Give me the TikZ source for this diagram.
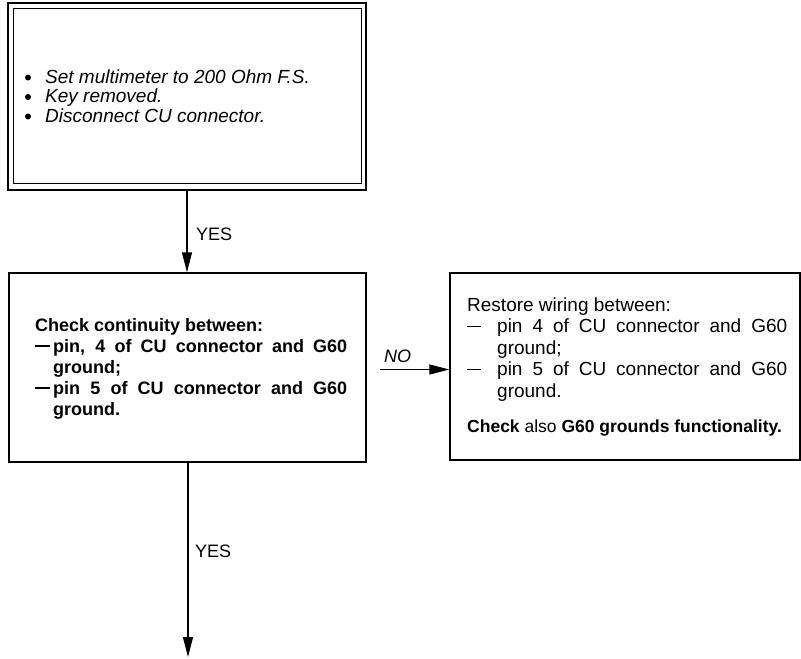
\documentclass[tikz,border=0pt]{standalone}
\usepackage{fontspec}
\setmainfont{Liberation Sans}
\usetikzlibrary{arrows.meta}
\begin{document}
\begin{tikzpicture}[x=1pt,y=-1pt,
  box/.style={draw, line width=1.4pt, inner sep=0pt, fill=none},
  conn/.style={line width=1.3pt, -{Triangle[length=20pt,width=10pt]}},
  txt/.style={anchor=base west, inner sep=0pt, font=\fontsize{18}{21}\selectfont},
  rtxt/.style={txt, font=\fontsize{19}{21}\selectfont},
  btxt/.style={txt, font=\fontsize{18}{21}\selectfont\bfseries},
  itxt/.style={txt, font=\fontsize{19}{21}\selectfont\itshape},
  bul/.style={circle, fill, inner sep=0pt, minimum size=6pt},
  dashmark/.style={anchor=base west, inner sep=0pt},
]
\useasboundingbox[fill=white] (0,0) rectangle (801,659);
% top box (double frame)
\node[box, line width=1.8pt, minimum width=358pt, minimum height=187pt] (b1) at (187,96.5) {};
\node[box, line width=1pt, minimum width=348pt, minimum height=175pt] (b1in) at (187,95.5) {};
\node[bul] (t1a) at (28,77.5) {};
\node[itxt] (t1) at (45,83) {Set multimeter to 200 Ohm F.S.};
\node[bul] (t2a) at (28,97) {};
\node[itxt] (t2) at (45,102.5) {Key removed.};
\node[bul] (t3a) at (28,116.5) {};
\node[itxt] (t3) at (45,122) {Disconnect CU connector.};
% second box
\node[box, minimum width=357pt, minimum height=189pt] (b2) at (187.5,367.5) {};
\node[btxt] (c0) at (35,331) {Check continuity between:};
\node[dashmark] (c1d) at (35,352) {\rule[5pt]{15pt}{2.4pt}};
\node[btxt] (c1) at (53,352) {\makebox[294pt][s]{pin, 4 of CU connector and G60}};
\node[btxt] (c2) at (53,373) {ground;};
\node[dashmark] (c3d) at (35,394) {\rule[5pt]{15pt}{1.8pt}};
\node[btxt] (c3) at (53,394) {\makebox[294pt][s]{pin 5 of CU connector and G60}};
\node[btxt] (c4) at (53,415) {ground.};
% right box
\node[box, minimum width=350pt, minimum height=187pt] (b3) at (625,366.5) {};
\node[rtxt] (r0) at (467,311) {Restore wiring between:};
\node[dashmark] (r1d) at (467,332.5) {\rule[5.5pt]{14pt}{1.4pt}};
\node[rtxt] (r1) at (497,332.5) {\makebox[290pt][s]{pin 4 of CU connector and G60}};
\node[rtxt] (r2) at (497,354) {ground;};
\node[dashmark] (r3d) at (467,375.5) {\rule[5.5pt]{14pt}{1.4pt}};
\node[rtxt] (r3) at (497,375.5) {\makebox[290pt][s]{pin 5 of CU connector and G60}};
\node[rtxt] (r4) at (497,397) {ground.};
\node[txt, font=\fontsize{17.5}{21}\selectfont] (r5) at (467,432) {\textbf{Check} also \textbf{G60 grounds functionality.}};
% connectors
\draw[conn] (b1.south) -- (b1.south |- b2.north);
\node[txt] (y1) at (196,240) {YES};
\draw[conn, shorten <=13pt] ([yshift=-2pt]b2.east) -- ([yshift=-2pt]b2.east -| b3.west);
\node[itxt, font=\fontsize{18}{21}\selectfont\itshape] (no) at (384,362) {NO};
\coordinate (endp) at (188,657);
\draw[conn] (b2.south -| endp) -- (endp);
\node[txt] (y2) at (195,557) {YES};
\end{tikzpicture}
\end{document}
